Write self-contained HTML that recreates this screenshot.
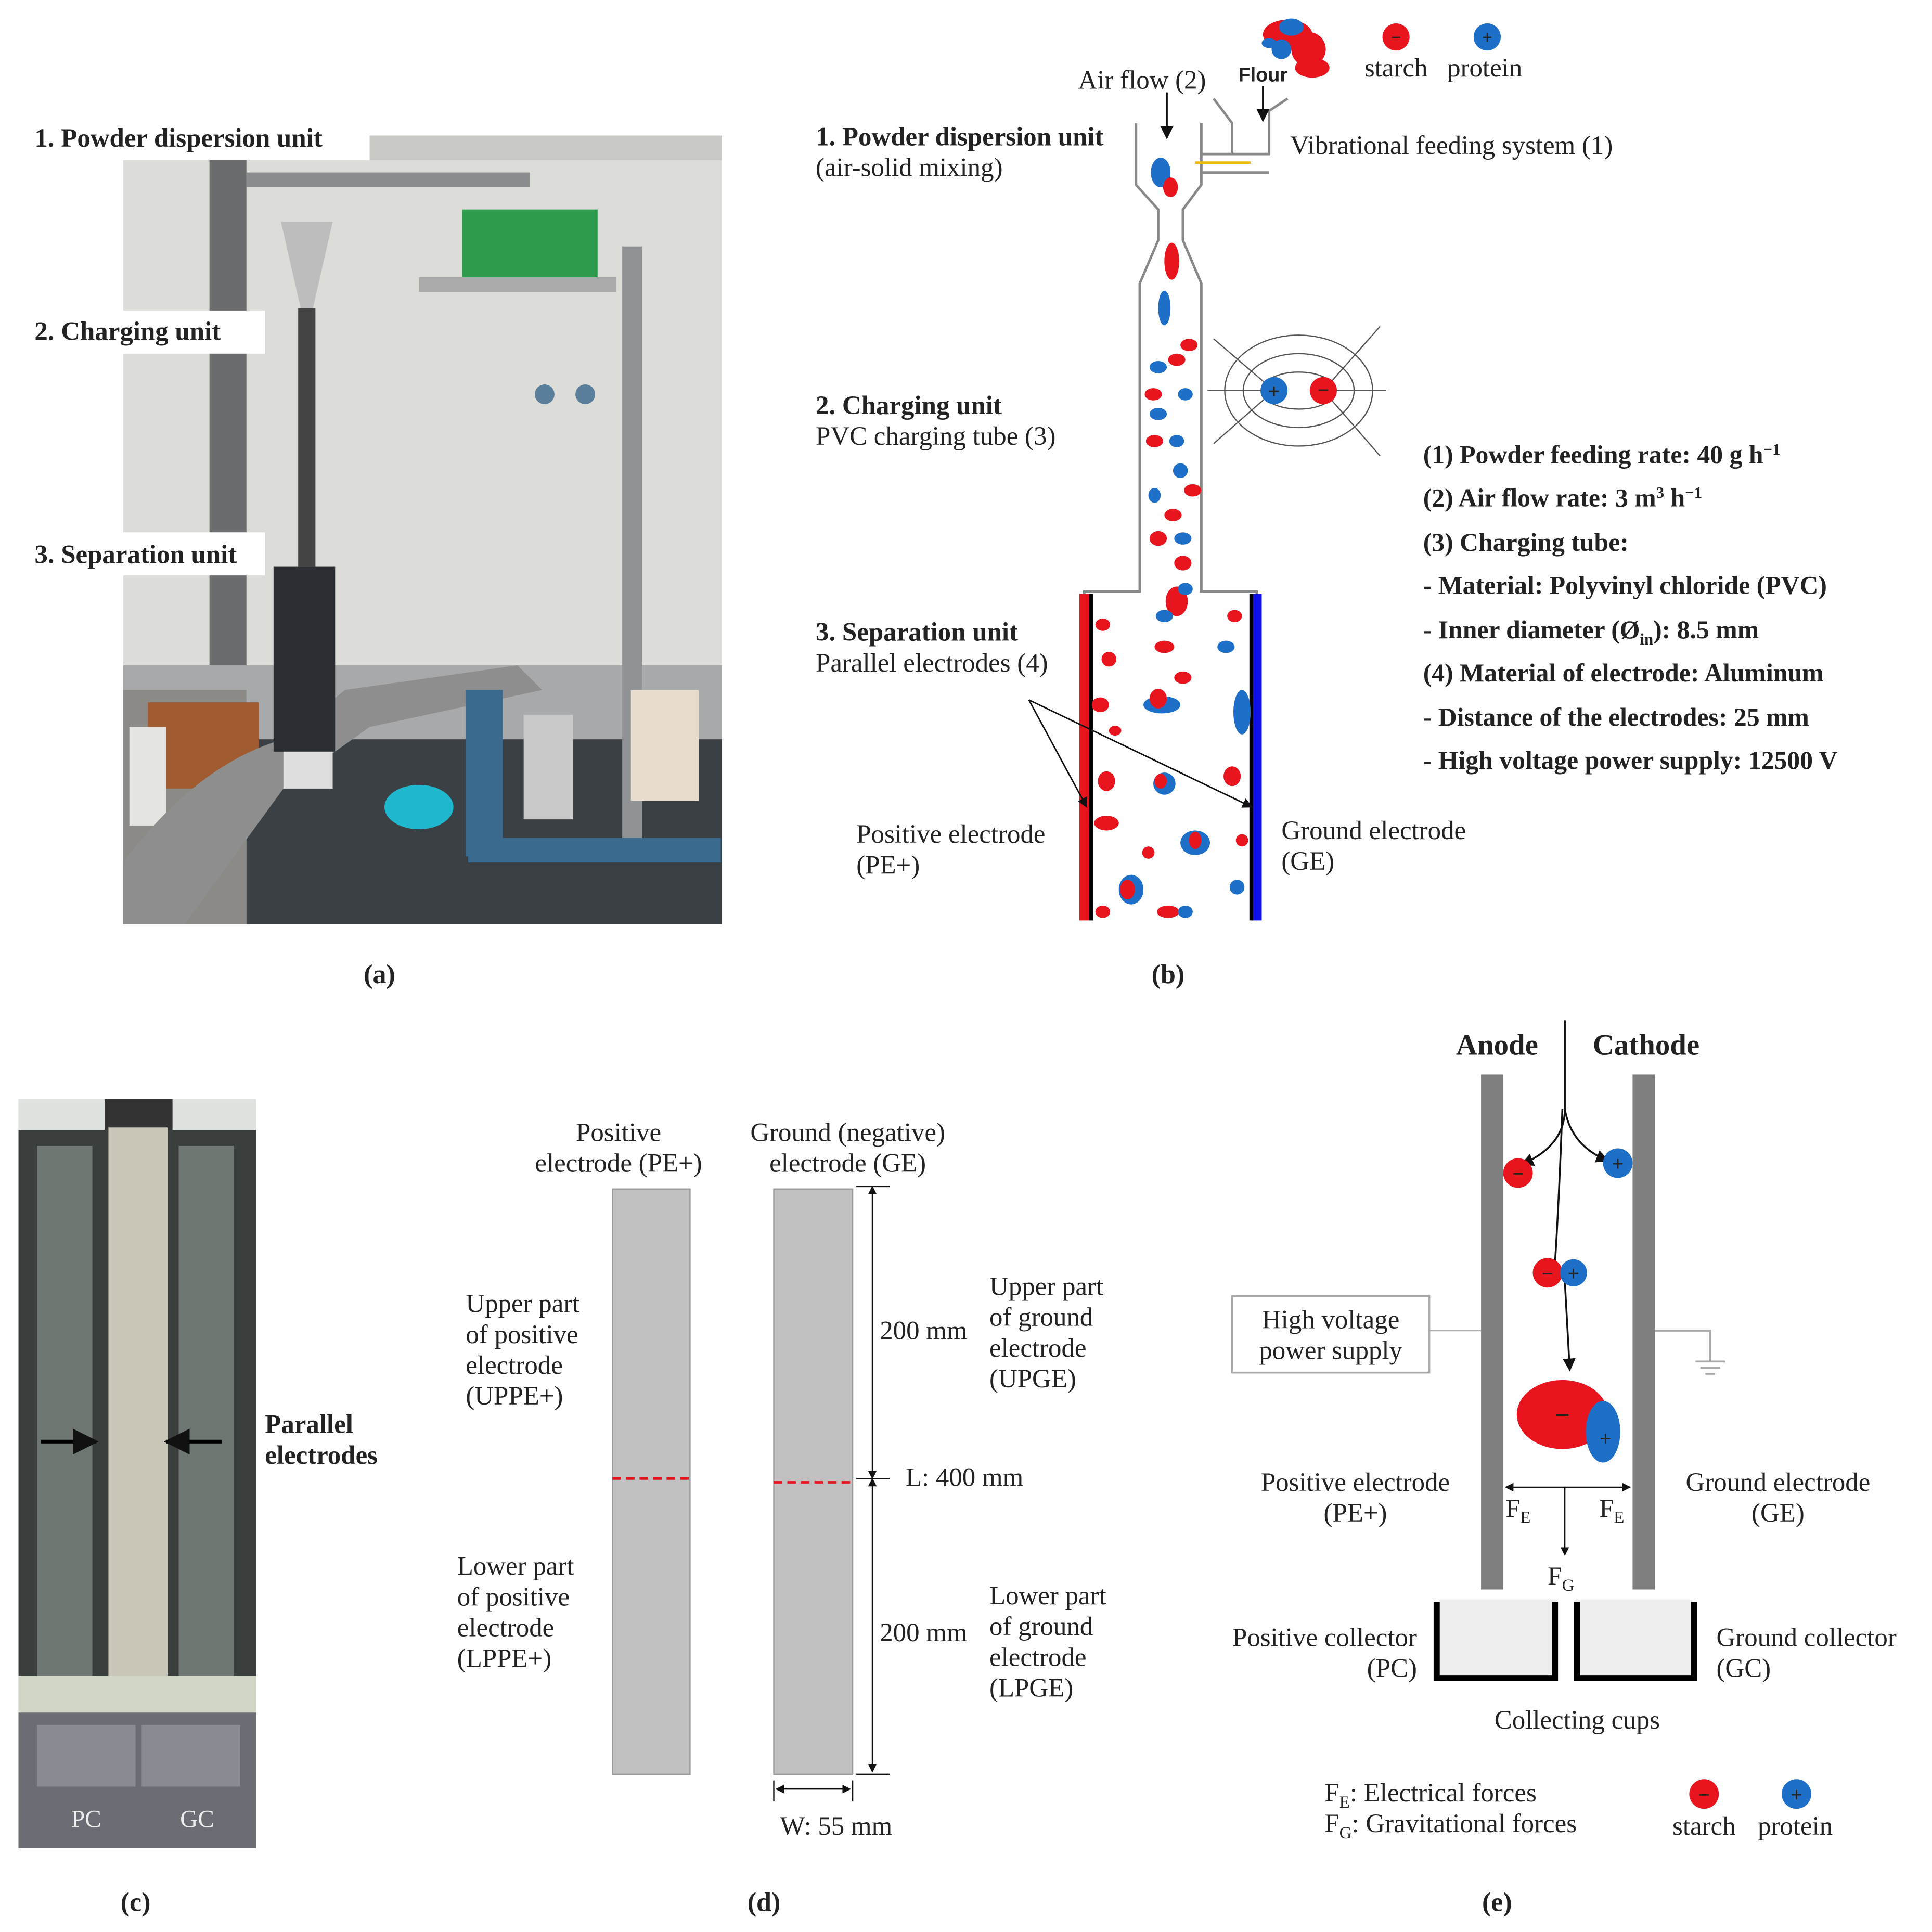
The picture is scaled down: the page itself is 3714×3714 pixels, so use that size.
<!DOCTYPE html>
<html><head><meta charset="utf-8"><style>
html,body{margin:0;padding:0;background:#fff}
svg{display:block}
text{font-family:"Liberation Serif",serif;fill:#222}
.b{font-weight:bold}
</style></head><body>
<svg width="3714" height="3714" viewBox="0 0 1568 1568" xmlns="http://www.w3.org/2000/svg">
<defs>
<marker id="ar" viewBox="0 0 10 10" refX="9" refY="5" markerWidth="7" markerHeight="7" orient="auto-start-reverse"><path d="M0,0L10,5L0,10z" fill="#111"/></marker>
</defs>
<rect width="1568" height="1568" fill="#fff"/>

<!-- (a) photo -->
<g>
<rect x="100" y="110" width="486" height="640" fill="#dcdcd8"/>
<rect x="100" y="110" width="486" height="20" fill="#c9c9c6"/>
<rect x="170" y="130" width="30" height="470" fill="#6a6c6e"/>
<rect x="100" y="540" width="486" height="210" fill="#a7a9aa"/>
<rect x="200" y="600" width="386" height="150" fill="#3b4045"/>
<rect x="100" y="560" width="100" height="190" fill="#8c8a86"/>
<rect x="120" y="570" width="90" height="70" fill="#a05c30"/>
<rect x="105" y="590" width="30" height="80" fill="#e4e4e0"/>
<path d="M100 700 Q160 620 230 600 L280 560 L420 540 L440 560 L300 590 L230 640 L150 750 L100 750z" fill="#8e8e8e"/>
<rect x="222" y="460" width="50" height="150" fill="#2a2e33"/>
<rect x="230" y="610" width="40" height="30" fill="#ddd"/>
<rect x="242" y="250" width="14" height="210" fill="#444"/>
<path d="M228 180 L270 180 L254 250 L244 250z" fill="#bdbdbd"/>
<rect x="200" y="140" width="230" height="12" fill="#8b8d8f"/>
<rect x="375" y="170" width="110" height="65" fill="#2e9a4e"/>
<rect x="340" y="225" width="160" height="12" fill="#aaa"/>
<rect x="505" y="200" width="16" height="490" fill="#8f9396"/>
<rect x="378" y="560" width="30" height="135" fill="#3a6a8e"/>
<rect x="380" y="680" width="205" height="20" fill="#3a6a8e"/>
<rect x="425" y="580" width="40" height="85" fill="#c9c9c9"/>
<rect x="512" y="560" width="55" height="90" fill="#e7dccd"/>
<ellipse cx="340" cy="655" rx="28" ry="18" fill="#1fb8cf"/>
<circle cx="442" cy="320" r="8" fill="#5b7f9a"/><circle cx="475" cy="320" r="8" fill="#5b7f9a"/>
</g>
<rect x="20" y="95" width="280" height="35" fill="#fff"/>
<text x="28" y="119" font-size="21.5" class="b">1. Powder dispersion unit</text>
<rect x="20" y="252" width="195" height="35" fill="#fff"/>
<text x="28" y="276" font-size="21.5" class="b">2. Charging unit</text>
<rect x="20" y="432" width="195" height="35" fill="#fff"/>
<text x="28" y="457" font-size="21.5" class="b">3. Separation unit</text>
<text x="308" y="798" font-size="22" class="b" text-anchor="middle">(a)</text>

<!-- (b) -->
<g fill="none" stroke="#888" stroke-width="2">
<path d="M922 100 L922 150 L940 170 L940 195 L925 230 L925 480 L880 480 L880 745"/>
<path d="M975 100 L975 150 L960 170 L960 195 L975 230 L975 480 L1020 480 L1020 745"/>
<path d="M975 125 L1030 125 L1030 90 L1045 80 M1000 125 L1000 100 L985 80"/>
<path d="M975 140 L1030 140"/>
</g>
<line x1="970" y1="132" x2="1015" y2="132" stroke="#f3b800" stroke-width="2"/>
<rect x="876" y="482" width="10" height="265" fill="#e8141e"/>
<rect x="884" y="482" width="3" height="265" fill="#000"/>
<rect x="1016" y="482" width="8" height="265" fill="#1010e8"/>
<rect x="1014" y="482" width="3" height="265" fill="#000"/>
<line x1="947" y1="75" x2="947" y2="112" stroke="#111" stroke-width="1.5" marker-end="url(#ar)"/>
<line x1="1025" y1="70" x2="1025" y2="98" stroke="#111" stroke-width="1.5" marker-end="url(#ar)"/>
<g>
<ellipse cx="942" cy="140" rx="8" ry="12" fill="#1e6fc8"/><ellipse cx="950" cy="152" rx="6" ry="8" fill="#e8141e"/>
<ellipse cx="951" cy="212" rx="6" ry="15" fill="#e8141e"/><ellipse cx="945" cy="250" rx="5" ry="14" fill="#1e6fc8"/>
<ellipse cx="965" cy="280" rx="7" ry="5" fill="#e8141e"/><ellipse cx="940" cy="298" rx="7" ry="5" fill="#1e6fc8"/>
<ellipse cx="955" cy="292" rx="7" ry="5" fill="#e8141e"/><ellipse cx="936" cy="320" rx="7" ry="5" fill="#e8141e"/>
<ellipse cx="962" cy="320" rx="6" ry="5" fill="#1e6fc8"/><ellipse cx="940" cy="336" rx="7" ry="5" fill="#1e6fc8"/>
<ellipse cx="937" cy="358" rx="7" ry="5" fill="#e8141e"/><ellipse cx="955" cy="358" rx="6" ry="5" fill="#1e6fc8"/>
<ellipse cx="958" cy="382" rx="6" ry="6" fill="#1e6fc8"/><ellipse cx="968" cy="398" rx="7" ry="5" fill="#e8141e"/>
<ellipse cx="937" cy="402" rx="5" ry="6" fill="#1e6fc8"/><ellipse cx="952" cy="418" rx="7" ry="5" fill="#e8141e"/>
<ellipse cx="940" cy="437" rx="7" ry="6" fill="#e8141e"/><ellipse cx="960" cy="437" rx="7" ry="5" fill="#1e6fc8"/>
<ellipse cx="960" cy="457" rx="7" ry="6" fill="#e8141e"/><ellipse cx="955" cy="488" rx="9" ry="12" fill="#e8141e"/>
<ellipse cx="962" cy="478" rx="6" ry="5" fill="#1e6fc8"/><ellipse cx="895" cy="507" rx="6" ry="5" fill="#e8141e"/>
<ellipse cx="945" cy="500" rx="7" ry="5" fill="#1e6fc8"/><ellipse cx="1002" cy="500" rx="6" ry="5" fill="#e8141e"/>
<ellipse cx="900" cy="535" rx="6" ry="6" fill="#e8141e"/><ellipse cx="945" cy="525" rx="8" ry="5" fill="#e8141e"/>
<ellipse cx="995" cy="525" rx="7" ry="5" fill="#1e6fc8"/><ellipse cx="960" cy="550" rx="7" ry="5" fill="#e8141e"/>
<ellipse cx="943" cy="572" rx="15" ry="7" fill="#1e6fc8"/><ellipse cx="940" cy="567" rx="7" ry="8" fill="#e8141e"/>
<ellipse cx="1008" cy="578" rx="7" ry="18" fill="#1e6fc8"/><ellipse cx="893" cy="572" rx="7" ry="6" fill="#e8141e"/>
<ellipse cx="905" cy="593" rx="5" ry="4" fill="#e8141e"/><ellipse cx="1000" cy="630" rx="7" ry="8" fill="#e8141e"/>
<ellipse cx="945" cy="636" rx="9" ry="9" fill="#1e6fc8"/><ellipse cx="942" cy="634" rx="5" ry="6" fill="#e8141e"/>
<ellipse cx="898" cy="634" rx="7" ry="8" fill="#e8141e"/><ellipse cx="898" cy="668" rx="10" ry="6" fill="#e8141e"/>
<ellipse cx="970" cy="684" rx="12" ry="10" fill="#1e6fc8"/><ellipse cx="970" cy="682" rx="5" ry="7" fill="#e8141e"/>
<ellipse cx="932" cy="692" rx="5" ry="5" fill="#e8141e"/><ellipse cx="1008" cy="682" rx="5" ry="5" fill="#e8141e"/>
<ellipse cx="918" cy="722" rx="10" ry="12" fill="#1e6fc8"/><ellipse cx="915" cy="722" rx="6" ry="8" fill="#e8141e"/>
<ellipse cx="1004" cy="720" rx="6" ry="6" fill="#1e6fc8"/><ellipse cx="948" cy="740" rx="9" ry="5" fill="#e8141e"/>
<ellipse cx="962" cy="740" rx="6" ry="5" fill="#1e6fc8"/><ellipse cx="895" cy="740" rx="6" ry="5" fill="#e8141e"/>
</g>
<g fill="none" stroke="#555" stroke-width="1">
<ellipse cx="1054" cy="317" rx="30" ry="15"/><ellipse cx="1054" cy="317" rx="45" ry="30"/><ellipse cx="1054" cy="317" rx="60" ry="45"/>
<path d="M1034 317 L980 317 M1074 317 L1125 317 M1034 317 L985 275 M1034 317 L985 360 M1074 317 L1120 265 M1074 317 L1120 370"/>
</g>
<circle cx="1034" cy="317" r="11" fill="#1e6fc8"/><text x="1034" y="323" font-size="16" text-anchor="middle" style="font-family:'Liberation Sans',sans-serif">+</text>
<circle cx="1074" cy="317" r="11" fill="#e8141e"/><text x="1074" y="322" font-size="16" text-anchor="middle" style="font-family:'Liberation Sans',sans-serif">−</text>
<ellipse cx="1045" cy="28" rx="20" ry="12" fill="#e8141e"/><ellipse cx="1062" cy="40" rx="14" ry="14" fill="#e8141e"/>
<ellipse cx="1040" cy="40" rx="8" ry="8" fill="#1e6fc8"/><ellipse cx="1048" cy="22" rx="10" ry="7" fill="#1e6fc8"/>
<ellipse cx="1065" cy="55" rx="14" ry="8" fill="#e8141e"/><ellipse cx="1030" cy="35" rx="6" ry="4" fill="#1e6fc8"/>
<text x="1025" y="66" font-size="16" text-anchor="middle" class="b" style="font-family:'Liberation Sans',sans-serif">Flour</text>
<circle cx="1133" cy="30" r="11" fill="#e8141e"/><text x="1133" y="35" font-size="14" text-anchor="middle" style="font-family:'Liberation Sans',sans-serif">−</text>
<circle cx="1207" cy="30" r="11" fill="#1e6fc8"/><text x="1207" y="35" font-size="14" text-anchor="middle" style="font-family:'Liberation Sans',sans-serif">+</text>
<text x="1133" y="62" font-size="21.5" text-anchor="middle">starch</text>
<text x="1205" y="62" font-size="21.5" text-anchor="middle">protein</text>
<text x="875" y="72" font-size="21.5">Air flow (2)</text>
<text x="1047" y="125" font-size="21.5">Vibrational feeding system (1)</text>
<text x="662" y="118" font-size="21.5" class="b">1. Powder dispersion unit</text>
<text x="662" y="143" font-size="21.5">(air-solid mixing)</text>
<text x="662" y="336" font-size="21.5" class="b">2. Charging unit</text>
<text x="662" y="361" font-size="21.5">PVC charging tube (3)</text>
<text x="662" y="520" font-size="21.5" class="b">3. Separation unit</text>
<text x="662" y="545" font-size="21.5">Parallel electrodes (4)</text>
<line x1="835" y1="568" x2="882" y2="655" stroke="#111" stroke-width="1.2" marker-end="url(#ar)"/>
<line x1="835" y1="568" x2="1016" y2="655" stroke="#111" stroke-width="1.2" marker-end="url(#ar)"/>
<text x="695" y="684" font-size="21.5">Positive electrode</text>
<text x="695" y="709" font-size="21.5">(PE+)</text>
<text x="1040" y="681" font-size="21.5">Ground electrode</text>
<text x="1040" y="706" font-size="21.5">(GE)</text>
<g font-size="21">
<text x="1155" y="376" class="b">(1) Powder feeding rate: 40 g h<tspan dy="-7" font-size="13">−1</tspan></text>
<text x="1155" y="411" class="b">(2) Air flow rate: 3 m<tspan dy="-7" font-size="13">3</tspan><tspan dy="7"> h</tspan><tspan dy="-7" font-size="13">−1</tspan></text>
<text x="1155" y="447" class="b">(3) Charging tube:</text>
<text x="1155" y="482" class="b">-   Material: Polyvinyl chloride (PVC)</text>
<text x="1155" y="518" class="b">-  Inner diameter (Ø<tspan dy="5" font-size="13">in</tspan><tspan dy="-5">): 8.5 mm</tspan></text>
<text x="1155" y="553" class="b">(4) Material of electrode: Aluminum</text>
<text x="1155" y="589" class="b">-  Distance of the electrodes: 25 mm</text>
<text x="1155" y="624" class="b">-  High voltage power supply: 12500 V</text>
</g>
<text x="948" y="798" font-size="22" class="b" text-anchor="middle">(b)</text>

<!-- (c) photo -->
<rect x="15" y="892" width="193" height="608" fill="#3a3f3d"/>
<rect x="15" y="892" width="193" height="25" fill="#dfe3e0"/>
<rect x="85" y="892" width="55" height="25" fill="#333"/>
<rect x="30" y="930" width="45" height="430" fill="#6e7672"/>
<rect x="145" y="930" width="45" height="430" fill="#6e7672"/>
<rect x="88" y="915" width="48" height="450" fill="#c9c6b8"/>
<rect x="15" y="1360" width="193" height="30" fill="#cfd6c6"/>
<rect x="15" y="1390" width="193" height="110" fill="#6a6e74"/>
<rect x="30" y="1400" width="80" height="50" fill="#888c92"/><rect x="115" y="1400" width="80" height="50" fill="#888c92"/>
<text x="70" y="1483" font-size="20" text-anchor="middle" style="fill:#eee">PC</text>
<text x="160" y="1483" font-size="20" text-anchor="middle" style="fill:#eee">GC</text>
<line x1="33" y1="1170" x2="78" y2="1170" stroke="#000" stroke-width="3" marker-end="url(#ar)"/>
<line x1="180" y1="1170" x2="135" y2="1170" stroke="#000" stroke-width="3" marker-end="url(#ar)"/>
<text x="215" y="1163" font-size="21.5" class="b">Parallel</text>
<text x="215" y="1188" font-size="21.5" class="b">electrodes</text>
<text x="110" y="1551" font-size="22" class="b" text-anchor="middle">(c)</text>

<!-- (d) -->
<rect x="497" y="965" width="63" height="475" fill="#c0c0c0" stroke="#999"/>
<rect x="628" y="965" width="64" height="475" fill="#c0c0c0" stroke="#999"/>
<line x1="497" y1="1200" x2="560" y2="1200" stroke="#e8141e" stroke-width="2" stroke-dasharray="7,4"/>
<line x1="628" y1="1203" x2="692" y2="1203" stroke="#e8141e" stroke-width="2" stroke-dasharray="7,4"/>
<line x1="708" y1="963" x2="708" y2="1200" stroke="#111" stroke-width="1" marker-start="url(#ar)" marker-end="url(#ar)"/>
<line x1="708" y1="1200" x2="708" y2="1438" stroke="#111" stroke-width="1" marker-start="url(#ar)" marker-end="url(#ar)"/>
<line x1="695" y1="963" x2="722" y2="963" stroke="#111"/><line x1="695" y1="1440" x2="722" y2="1440" stroke="#111"/>
<line x1="695" y1="1200" x2="722" y2="1200" stroke="#111"/>
<line x1="628" y1="1445" x2="628" y2="1462" stroke="#111"/><line x1="692" y1="1445" x2="692" y2="1462" stroke="#111"/>
<line x1="630" y1="1452" x2="690" y2="1452" stroke="#111" marker-start="url(#ar)" marker-end="url(#ar)"/>
<g font-size="21.5">
<text x="502" y="926" text-anchor="middle">Positive</text>
<text x="502" y="951" text-anchor="middle">electrode (PE+)</text>
<text x="688" y="926" text-anchor="middle">Ground (negative)</text>
<text x="688" y="951" text-anchor="middle">electrode (GE)</text>
<text x="378" y="1065">Upper part</text><text x="378" y="1090">of positive</text><text x="378" y="1115">electrode</text><text x="378" y="1140">(UPPE+)</text>
<text x="371" y="1278">Lower part</text><text x="371" y="1303">of positive</text><text x="371" y="1328">electrode</text><text x="371" y="1353">(LPPE+)</text>
<text x="803" y="1051">Upper part</text><text x="803" y="1076">of ground</text><text x="803" y="1101">electrode</text><text x="803" y="1126">(UPGE)</text>
<text x="803" y="1302">Lower part</text><text x="803" y="1327">of ground</text><text x="803" y="1352">electrode</text><text x="803" y="1377">(LPGE)</text>
<text x="714" y="1087">200 mm</text>
<text x="714" y="1332">200 mm</text>
<text x="735" y="1206">L: 400 mm</text>
<text x="633" y="1489">W: 55 mm</text>
</g>
<text x="620" y="1551" font-size="22" class="b" text-anchor="middle">(d)</text>

<!-- (e) -->
<rect x="1202" y="872" width="18" height="418" fill="#7f7f7f"/>
<rect x="1325" y="872" width="18" height="418" fill="#7f7f7f"/>
<text x="1215" y="856" font-size="24" class="b" text-anchor="middle">Anode</text>
<text x="1336" y="856" font-size="24" class="b" text-anchor="middle">Cathode</text>
<g fill="none" stroke="#111" stroke-width="1.5">
<path d="M1270 828 L1270 900 Q1270 930 1235 945" marker-end="url(#ar)"/>
<path d="M1270 900 Q1275 930 1305 942" marker-end="url(#ar)"/>
<path d="M1268 900 Q1265 980 1262 1025"/>
<path d="M1270 1040 L1274 1112" marker-end="url(#ar)"/>
</g>
<circle cx="1232" cy="952" r="12" fill="#e8141e"/><text x="1232" y="958" font-size="16" text-anchor="middle" style="font-family:'Liberation Sans',sans-serif">−</text>
<circle cx="1313" cy="944" r="12" fill="#1e6fc8"/><text x="1313" y="950" font-size="16" text-anchor="middle" style="font-family:'Liberation Sans',sans-serif">+</text>
<circle cx="1256" cy="1033" r="12" fill="#e8141e"/><text x="1256" y="1039" font-size="16" text-anchor="middle" style="font-family:'Liberation Sans',sans-serif">−</text>
<circle cx="1277" cy="1033" r="11" fill="#1e6fc8"/><text x="1277" y="1039" font-size="16" text-anchor="middle" style="font-family:'Liberation Sans',sans-serif">+</text>
<ellipse cx="1268" cy="1148" rx="37" ry="28" fill="#e8141e"/><text x="1268" y="1155" font-size="20" text-anchor="middle" style="font-family:'Liberation Sans',sans-serif">−</text>
<ellipse cx="1301" cy="1162" rx="14" ry="25" fill="#1e6fc8"/><text x="1303" y="1173" font-size="16" text-anchor="middle" style="font-family:'Liberation Sans',sans-serif">+</text>
<line x1="1270" y1="1207" x2="1222" y2="1207" stroke="#111" marker-end="url(#ar)"/>
<line x1="1270" y1="1207" x2="1323" y2="1207" stroke="#111" marker-end="url(#ar)"/>
<line x1="1270" y1="1207" x2="1270" y2="1262" stroke="#111" marker-end="url(#ar)"/>
<text x="1222" y="1231" font-size="21">F<tspan dy="5" font-size="14">E</tspan></text>
<text x="1298" y="1231" font-size="21">F<tspan dy="5" font-size="14">E</tspan></text>
<text x="1256" y="1286" font-size="21">F<tspan dy="5" font-size="14">G</tspan></text>
<rect x="1000" y="1052" width="160" height="62" fill="#fff" stroke="#aaa" stroke-width="1.5"/>
<text x="1080" y="1078" font-size="21.5" text-anchor="middle">High voltage</text>
<text x="1080" y="1103" font-size="21.5" text-anchor="middle">power supply</text>
<line x1="1160" y1="1080" x2="1202" y2="1080" stroke="#aaa"/>
<path d="M1343 1080 L1388 1080 L1388 1105 M1376 1105 L1400 1105 M1380 1110 L1396 1110 M1384 1115 L1392 1115" fill="none" stroke="#aaa" stroke-width="1.5"/>
<rect x="1168" y="1298" width="95" height="62" fill="#eee"/>
<rect x="1278" y="1298" width="95" height="62" fill="#eee"/>
<path d="M1166 1300 L1166 1362 L1262 1362 L1262 1300 M1280 1300 L1280 1362 L1375 1362 L1375 1300" fill="none" stroke="#000" stroke-width="5"/>
<g font-size="21.5">
<text x="1100" y="1210" text-anchor="middle">Positive electrode</text><text x="1100" y="1235" text-anchor="middle">(PE+)</text>
<text x="1443" y="1210" text-anchor="middle">Ground electrode</text><text x="1443" y="1235" text-anchor="middle">(GE)</text>
<text x="1150" y="1336" text-anchor="end">Positive collector</text><text x="1150" y="1361" text-anchor="end">(PC)</text>
<text x="1393" y="1336">Ground collector</text><text x="1393" y="1361">(GC)</text>
<text x="1280" y="1403" text-anchor="middle">Collecting cups</text>
<text x="1075" y="1462">F<tspan dy="5" font-size="14">E</tspan><tspan dy="-5">: Electrical forces</tspan></text>
<text x="1075" y="1487">F<tspan dy="5" font-size="14">G</tspan><tspan dy="-5">: Gravitational forces</tspan></text>
<text x="1383" y="1489" text-anchor="middle">starch</text>
<text x="1457" y="1489" text-anchor="middle">protein</text>
</g>
<circle cx="1383" cy="1456" r="12" fill="#e8141e"/><text x="1383" y="1462" font-size="16" text-anchor="middle" style="font-family:'Liberation Sans',sans-serif">−</text>
<circle cx="1458" cy="1456" r="12" fill="#1e6fc8"/><text x="1458" y="1462" font-size="16" text-anchor="middle" style="font-family:'Liberation Sans',sans-serif">+</text>
<text x="1215" y="1551" font-size="22" class="b" text-anchor="middle">(e)</text>
</svg>
</body></html>
